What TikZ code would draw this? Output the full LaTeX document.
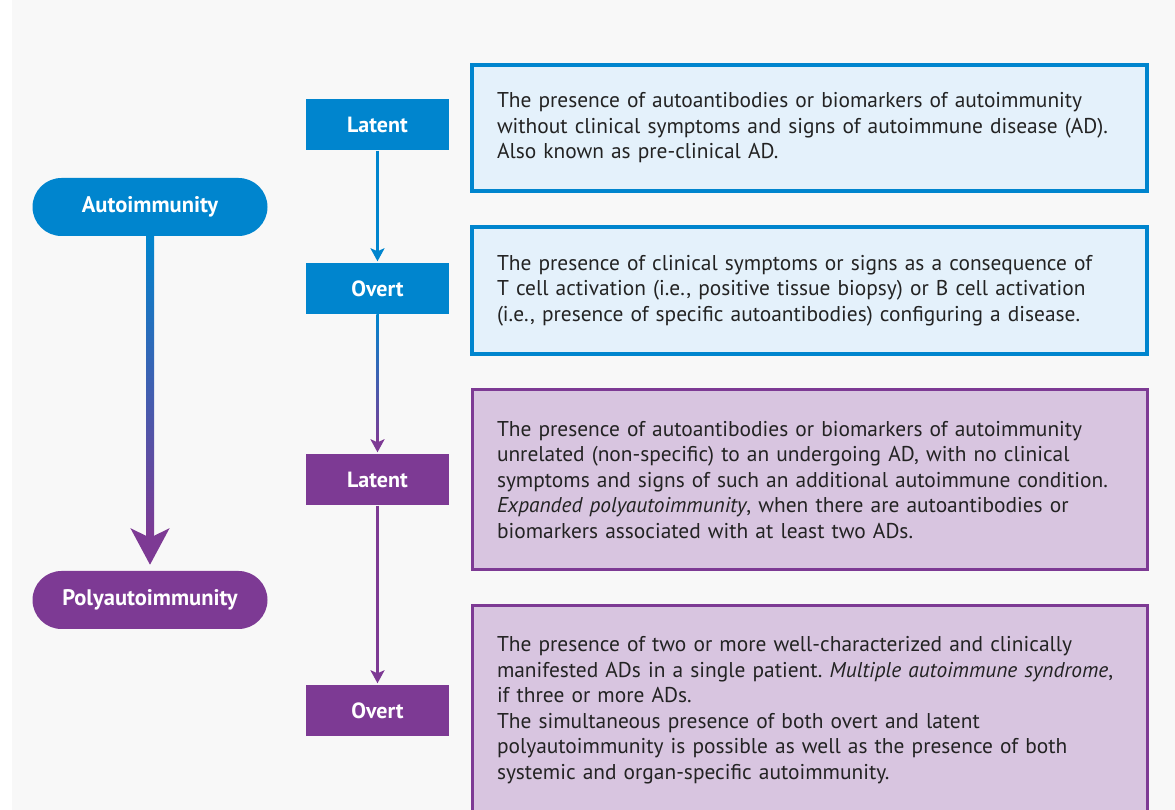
\documentclass[tikz,border=0pt]{standalone}
\usepackage{fontspec}
\setmainfont{PT Sans}
\usetikzlibrary{arrows.meta,calc}

\definecolor{autoblue}{RGB}{0,133,206}
\definecolor{polypurple}{RGB}{125,58,148}
\definecolor{paleblue}{RGB}{228,241,251}
\definecolor{palepurple}{RGB}{216,197,224}
\definecolor{bggray}{RGB}{248,248,248}
\definecolor{bodytext}{RGB}{35,35,35}

\tikzset{
  pill/.style={rounded corners=29pt, minimum width=235pt, minimum height=58pt,
    text=white, font=\fontsize{22.5}{26}\selectfont\bfseries},
  stagebox/.style={minimum width=143pt, minimum height=51pt,
    text=white, font=\fontsize{22}{26}\selectfont\bfseries},
  descbox/.style={minimum width=675pt, text width=625pt, inner xsep=25pt,
    align=left, text=bodytext, line width=4pt,
    font=\fontsize{21.4}{25.5}\selectfont\frenchspacing},
  flow/.style={line width=2.5pt, -{Stealth[length=13pt,width=14pt,inset=3pt]},
    shorten >=2pt},
}

\begin{document}
\begin{tikzpicture}[x=1pt, y=1pt]
  \useasboundingbox (0,0) rectangle (1175,810);
  \clip (0,0) rectangle (1175,810);
  \fill[bggray] (12,0) rectangle (1175,810);

  % --- description boxes ---
  \node[descbox, draw=autoblue, fill=paleblue, minimum height=126pt] (desc1) at (809.5,682)
    {The presence of autoantibodies or biomarkers of autoimmunity\\
     without clinical symptoms and signs of autoimmune disease (AD).\\
     Also known as pre-clinical AD.};
  \node[descbox, draw=autoblue, fill=paleblue, minimum height=127pt] (desc2) at (809.5,519.5)
    {The presence of clinical symptoms or signs as a consequence of\\
     T cell activation (i.e., positive tissue biopsy) or B cell activation\\
     (i.e., presence of specific autoantibodies) configuring a disease.};
  \node[descbox, draw=polypurple, fill=palepurple, line width=3pt, minimum height=180pt] (desc3) at (809.5,330)
    {The presence of autoantibodies or biomarkers of autoimmunity\\
     unrelated (non-specific) to an undergoing AD, with no clinical\\
     symptoms and signs of such an additional autoimmune condition.\\
     \textit{Expanded polyautoimmunity}, when there are autoantibodies or\\
     biomarkers associated with at least two ADs.};
  \node[descbox, draw=polypurple, fill=palepurple, line width=3pt, minimum height=208pt] (desc4) at (809.5,100)
    {The presence of two or more well-characterized and clinically\\
     manifested ADs in a single patient. \textit{Multiple autoimmune syndrome},\\
     if three or more ADs.\\
     The simultaneous presence of both overt and latent\\
     polyautoimmunity is possible as well as the presence of both\\
     systemic and organ-specific autoimmunity.};

  % --- stages ---
  \node[stagebox, fill=autoblue] (lat1) at (377.5,685) {Latent};
  \node[stagebox, fill=autoblue] (ovt1) at (377.5,521) {Overt};
  \node[stagebox, fill=polypurple] (lat2) at (377.5,330) {Latent};
  \node[stagebox, fill=polypurple] (ovt2) at (377.5,99) {Overt};

  % --- main terms ---
  \node[pill, fill=autoblue] (auto) at (150,603) {Autoimmunity};
  \node[pill, fill=polypurple] (poly) at (150,210) {Polyautoimmunity};

  % connectors
  \draw[flow, autoblue] (lat1) -- (ovt1);
  \shade[top color=autoblue, bottom color=polypurple]
    ($(ovt1.south)+(-1.25,0)$) rectangle ($(lat2.north)+(1.25,12)$);
  \draw[flow, polypurple] ($(lat2.north)+(0,14)$) -- (lat2);
  \draw[flow, polypurple] (lat2) -- (ovt2);

  \shade[top color=autoblue, bottom color=polypurple]
    ($(auto.south)+(-4,0)$) rectangle ($(poly.north)+(4,36)$);
  \draw[line width=8pt, polypurple, -{Stealth[length=36pt,width=38pt,inset=9pt]}, shorten >=6pt]
    ($(poly.north)+(0,40)$) -- (poly.north);
\end{tikzpicture}
\end{document}
